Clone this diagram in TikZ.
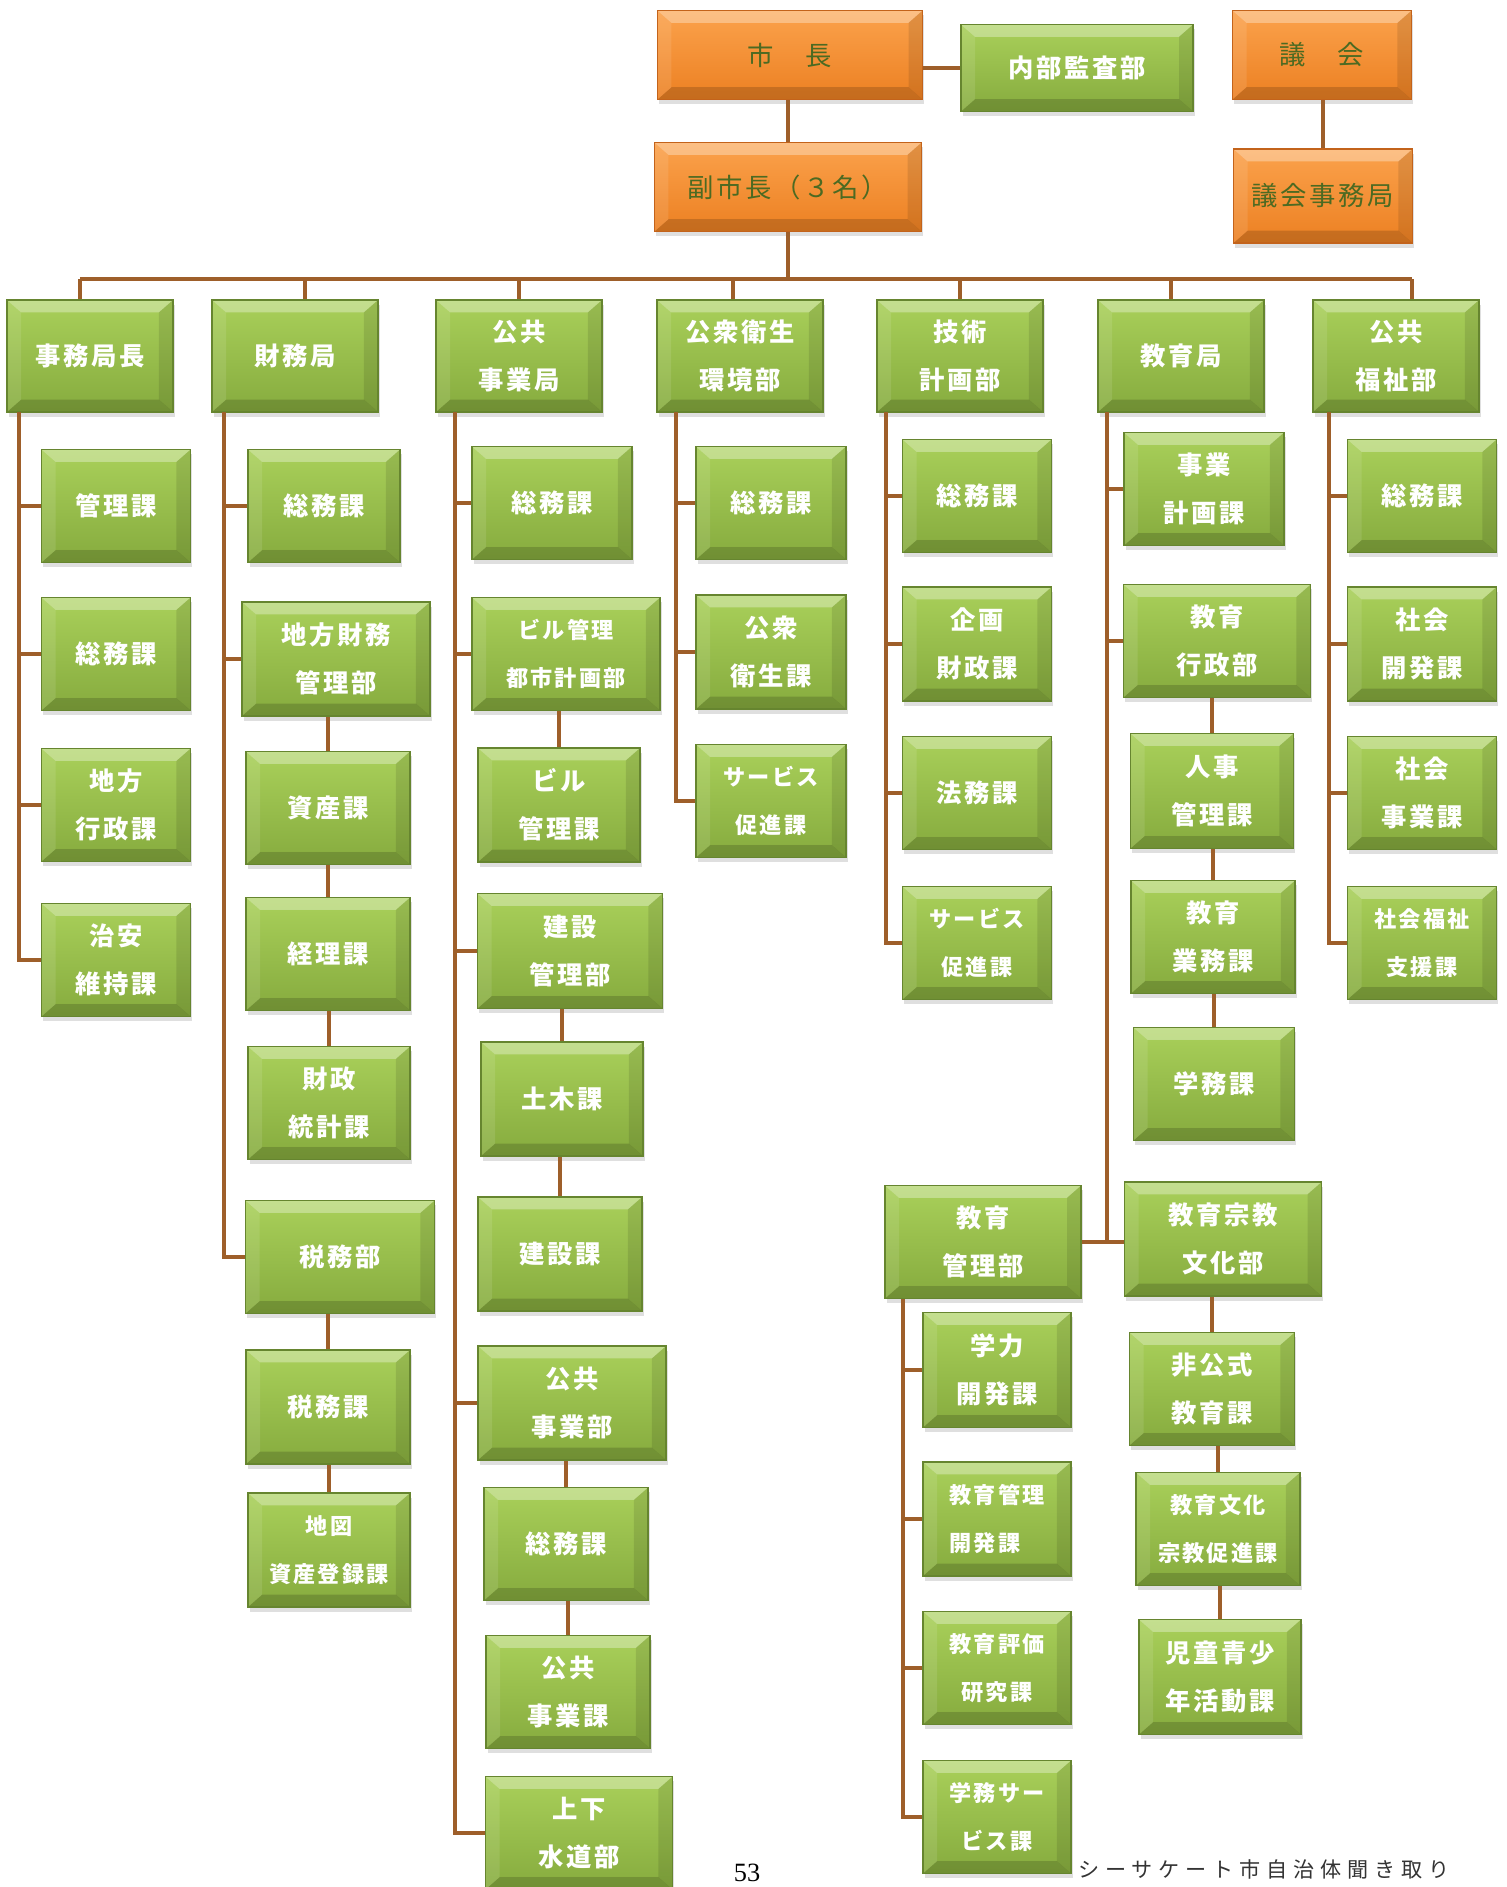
\documentclass[tikz,border=0pt]{standalone}
\usepackage{fontspec}
\setmainfont{Noto Sans CJK JP}[LetterSpace=10]
\newfontfamily\numfont{Liberation Serif}
\usetikzlibrary{shadows}
\definecolor{OrgBrown}{HTML}{9E5F2A}
\definecolor{GrTop}{HTML}{A9D05A}
\definecolor{GrBot}{HTML}{86AB3E}
\definecolor{GrEdge}{HTML}{66852F}
\definecolor{OrTop}{HTML}{FBA24C}
\definecolor{OrBot}{HTML}{EC8022}
\definecolor{OrEdge}{HTML}{C3631B}
\definecolor{OrText}{HTML}{4C6A22}

\begin{document}
\begin{tikzpicture}[x=0.01cm, y=-0.01cm,
  link/.style={draw=OrgBrown, line width=1.1pt},
  bevel/.style={path picture={
    \fill[white, opacity=0.32] (path picture bounding box.north west) -- (path picture bounding box.north east)
      -- ([shift={(-4pt,-3.5pt)}]path picture bounding box.north east) -- ([shift={(4pt,-3.5pt)}]path picture bounding box.north west) -- cycle;
    \fill[black, opacity=0.16] (path picture bounding box.south west) -- (path picture bounding box.south east)
      -- ([shift={(-4pt,3.5pt)}]path picture bounding box.south east) -- ([shift={(4pt,3.5pt)}]path picture bounding box.south west) -- cycle;
    \fill[black, opacity=0.10] (path picture bounding box.north east) -- (path picture bounding box.south east)
      -- ([shift={(-4pt,3.5pt)}]path picture bounding box.south east) -- ([shift={(-4pt,-3.5pt)}]path picture bounding box.north east) -- cycle;
    \fill[white, opacity=0.10] (path picture bounding box.north west) -- (path picture bounding box.south west)
      -- ([shift={(4pt,3.5pt)}]path picture bounding box.south west) -- ([shift={(4pt,-3.5pt)}]path picture bounding box.north west) -- cycle;}},
  head/.style={rectangle, draw=OrEdge, line width=0.5pt, top color=OrTop, bottom color=OrBot, text=OrText, bevel,
    drop shadow={opacity=0.25, shadow xshift=0.5pt, shadow yshift=-1.4pt},
    font=\fontsize{7.5}{13.6}\selectfont, align=center, inner sep=0pt, minimum width=2.65cm, minimum height=0.89cm},
  sect/.style={rectangle, draw=GrEdge, line width=0.5pt, top color=GrTop, bottom color=GrBot, text=white, bevel,
    drop shadow={opacity=0.25, shadow xshift=0.5pt, shadow yshift=-1.4pt},
    font=\fontsize{7.2}{13.6}\selectfont\bfseries, align=center, inner sep=0pt},
  dept/.style={sect, minimum width=1.66cm, minimum height=1.12cm},
  unit/.style={sect, minimum width=1.49cm, minimum height=1.13cm},
  small/.style={font=\fontsize{6.3}{13.6}\selectfont\bfseries}]

\useasboundingbox (0,0) rectangle (1507,1887);

% top level
\node[head] (mayor) at (790,55) {市　長};
\node[sect, minimum width=2.32cm, minimum height=0.87cm] (audit) at (1077,68) {内部監査部};
\node[head, minimum width=1.79cm] (council) at (1322,55) {議　会};
\node[head, minimum width=2.67cm] (vice) at (788,187) {副市長（３名）};
\node[head, minimum width=1.79cm, minimum height=0.94cm] (csec) at (1323,196) {議会事務局};
\draw[link] (audit.west) -- (audit.west -| mayor.east);
\draw[link] (vice.north) -- (vice.north |- mayor.south);
\draw[link] (csec.north) -- (csec.north |- council.south);

% departments
\node[dept] (d1) at (90,356) {事務局長};
\node[dept] (d2) at (295,356) {財務局};
\node[dept] (d3) at (519,356) {公共\\事業局};
\node[dept] (d4) at (740,356) {公衆衛生\\環境部};
\node[dept] (d5) at (960,356) {技術\\計画部};
\node[dept] (d6) at (1181,356) {教育局};
\node[dept] (d7) at (1396,356) {公共\\福祉部};
\coordinate (bus) at (788,279);
\draw[link] (vice.south) -- (vice.south |- bus);
\draw[link] ([xshift=-0.1cm]d1.north |- bus) -- ([xshift=0.16cm]d7.north |- bus);
\foreach \d/\dx in {d1/-0.1,d2/0.1,d3/0,d4/-0.07,d5/0,d6/-0.1,d7/0.16}
  \draw[link] ([xshift=\dx cm]\d.north) -- ([xshift=\dx cm]\d.north |- bus);

% column 1
\node[unit] (a1) at (116,506) {管理課};
\node[unit] (a2) at (116,654) {総務課};
\node[unit] (a3) at (116,805) {地方\\行政課};
\node[unit] (a4) at (116,960) {治安\\維持課};
\coordinate (s1) at (19,412);
\draw[link] (s1) |- (a4.west);
\foreach \n in {a1,a2,a3}
  \draw[link] (\n.west) -- (\n.west -| s1);

% column 2
\node[unit, minimum width=1.52cm] (b1) at (324,506) {総務課};
\node[unit, minimum width=1.88cm, minimum height=1.14cm] (b2) at (336,659) {地方財務\\管理部};
\node[unit, minimum width=1.64cm] (b3) at (328,808) {資産課};
\node[unit, minimum width=1.64cm] (b4) at (328,954) {経理課};
\node[unit, minimum width=1.62cm] (b5) at (329,1103) {財政\\統計課};
\node[unit, minimum width=1.89cm] (b6) at (340,1257) {税務部};
\node[unit, minimum width=1.64cm, minimum height=1.14cm] (b7) at (328,1407) {税務課};
\node[unit, minimum width=1.62cm, minimum height=1.14cm, small] (b8) at (329,1550) {地図\\資産登録課};
\coordinate (s2) at (224,412);
\draw[link] (s2) |- (b6.west);
\foreach \n in {b1,b2}
  \draw[link] (\n.west) -- (\n.west -| s2);
\foreach \p/\c in {b2/b3,b3/b4,b4/b5,b6/b7,b7/b8}
  \draw[link] (\c.north) -- (\c.north |- \p.south);

% column 3
\node[unit, minimum width=1.60cm] (c1) at (552,503) {総務課};
\node[unit, minimum width=1.88cm, small] (c2) at (566,654) {ビル管理\\都市計画部};
\node[unit, minimum width=1.62cm, minimum height=1.14cm] (c3) at (559,805) {ビル\\管理課};
\node[unit, minimum width=1.85cm, minimum height=1.15cm] (c4) at (570,951) {建設\\管理部};
\node[unit, minimum width=1.62cm, minimum height=1.14cm] (c5) at (562,1099) {土木課};
\node[unit, minimum width=1.64cm, minimum height=1.14cm] (c6) at (560,1254) {建設課};
\node[unit, minimum width=1.88cm, minimum height=1.14cm] (c7) at (572,1403) {公共\\事業部};
\node[unit, minimum width=1.64cm] (c8) at (566,1544) {総務課};
\node[unit, minimum width=1.64cm] (c9) at (568,1692) {公共\\事業課};
\node[unit, minimum width=1.87cm] (c10) at (579,1833) {上下\\水道部};
\coordinate (s3) at (455,412);
\draw[link] (s3) |- (c10.west);
\foreach \n in {c1,c2,c4,c7}
  \draw[link] (\n.west) -- (\n.west -| s3);
\foreach \p/\c in {c2/c3,c4/c5,c5/c6,c7/c8,c8/c9}
  \draw[link] (\c.north) -- (\c.north |- \p.south);

% column 4
\node[unit, minimum width=1.50cm] (e1) at (771,503) {総務課};
\node[unit, minimum width=1.50cm, minimum height=1.14cm] (e2) at (771,652) {公衆\\衛生課};
\node[unit, minimum width=1.50cm, small] (e3) at (771,801) {サービス\\促進課};
\coordinate (s4) at (676,412);
\draw[link] (s4) |- (e3.west);
\foreach \n in {e1,e2}
  \draw[link] (\n.west) -- (\n.west -| s4);

% column 5
\node[unit] (f1) at (977,496) {総務課};
\node[unit, minimum height=1.14cm] (f2) at (977,644) {企画\\財政課};
\node[unit] (f3) at (977,793) {法務課};
\node[unit, small] (f4) at (977,943) {サービス\\促進課};
\coordinate (s5) at (886,412);
\draw[link] (s5) |- (f4.west);
\foreach \n in {f1,f2,f3}
  \draw[link] (\n.west) -- (\n.west -| s5);

% column 6
\node[unit, minimum width=1.60cm] (g1) at (1204,489) {事業\\計画課};
\node[unit, minimum width=1.87cm] (g2) at (1217,641) {教育\\行政部};
\node[unit, minimum width=1.63cm, minimum height=1.15cm] (g3) at (1212,791) {人事\\管理課};
\node[unit, minimum width=1.64cm] (g4) at (1213,937) {教育\\業務課};
\node[unit, minimum width=1.61cm] (g5) at (1214,1084) {学務課};
\node[unit, minimum width=1.96cm] (g6) at (983,1242) {教育\\管理部};
\node[unit, minimum width=1.97cm, minimum height=1.14cm] (g7) at (1223,1239) {教育宗教\\文化部};
\coordinate (s6) at (1107,412);
\draw[link] (s6) -- (s6 |- g6.east);
\draw[link] (g6.east) -- (g7.west |- g6.east);
\foreach \n in {g1,g2}
  \draw[link] (\n.west) -- (\n.west -| s6);
\foreach \p/\c in {g2/g3,g3/g4,g4/g5}
  \draw[link] (\c.north) -- (\c.north |- \p.south);

\node[unit, minimum width=1.48cm, minimum height=1.15cm] (h1) at (997,1370) {学力\\開発課};
\node[unit, minimum width=1.48cm, minimum height=1.14cm, small, align=left] (h2) at (997,1519) {教育管理\\開発課};
\node[unit, minimum width=1.48cm, small] (h3) at (997,1668) {教育評価\\研究課};
\node[unit, minimum width=1.48cm, small] (h4) at (997,1817) {学務サー\\ビス課};
\coordinate (s8) at (903,1299);
\draw[link] (s8) |- (h4.west);
\foreach \n in {h1,h2,h3}
  \draw[link] (\n.west) -- (\n.west -| s8);

\node[unit, minimum width=1.65cm] (k1) at (1212,1389) {非公式\\教育課};
\node[unit, minimum width=1.64cm, small] (k2) at (1218,1529) {教育文化\\宗教促進課};
\node[unit, minimum width=1.62cm, minimum height=1.15cm] (k3) at (1220,1677) {児童青少\\年活動課};
\foreach \p/\c in {g7/k1,k1/k2,k2/k3}
  \draw[link] (\c.north) -- (\c.north |- \p.south);

% column 7
\node[unit] (m1) at (1422,496) {総務課};
\node[unit, minimum height=1.14cm] (m2) at (1422,644) {社会\\開発課};
\node[unit] (m3) at (1422,793) {社会\\事業課};
\node[unit, small] (m4) at (1422,943) {社会福祉\\支援課};
\coordinate (s7) at (1329,412);
\draw[link] (s7) |- (m4.west);
\foreach \n in {m1,m2,m3}
  \draw[link] (\n.west) -- (\n.west -| s7);

% footer
\node[font=\numfont\fontsize{7.5}{9}\selectfont] (pg) at (747,1873) {53};
\node[font=\fontsize{6}{7}\selectfont\addfontfeatures{LetterSpace=28}, text=black!80] (src) at (1264,1869) {シーサケート市自治体聞き取り};
\end{tikzpicture}
\end{document}
